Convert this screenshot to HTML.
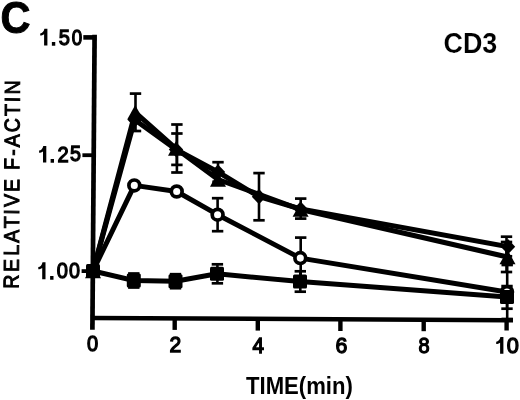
<!DOCTYPE html>
<html><head><meta charset="utf-8"><style>
html,body{margin:0;padding:0;background:#fff;width:520px;height:400px;overflow:hidden}
svg{display:block;font-family:"Liberation Sans",sans-serif;filter:grayscale(1)}
</style></head><body>
<svg width="520" height="400" viewBox="0 0 520 400">
<rect width="520" height="400" fill="#fff"/>
<defs><filter id="b" x="-5%" y="-5%" width="110%" height="110%"><feGaussianBlur stdDeviation="0.35"/></filter></defs>
<g filter="url(#b)">
<g fill="#000">

<text transform="translate(0.5,33.25) scale(0.925,1)" font-size="44.8" font-weight="bold" stroke="#000" stroke-width="1.0">C</text>
<text transform="translate(443.5,53.4) scale(0.917,1)" font-size="29.3" font-weight="bold" stroke="#fff" stroke-width="0.15">CD3</text>
<path d="M47.40,28.70 L47.40,45.50 L44.10,45.50 L44.10,34.30 C42.90,35.10 41.50,35.60 40.20,35.60 L40.20,33.50 C42.30,33.20 43.80,31.50 44.40,28.70 Z"/>
<path d="M46.30,145.90 L46.30,162.40 L43.00,162.40 L43.00,151.40 C41.80,152.19 40.40,152.68 39.10,152.68 L39.10,150.61 C41.20,150.32 42.70,148.65 43.30,145.90 Z"/>
<path d="M45.50,262.20 L45.50,279.30 L42.20,279.30 L42.20,267.90 C41.00,268.71 39.60,269.22 38.30,269.22 L38.30,267.09 C40.40,266.78 41.90,265.05 42.50,262.20 Z"/>
<path d="M503.40,337.10 L503.40,353.80 L500.10,353.80 L500.10,342.67 C498.90,343.46 497.50,343.96 496.20,343.96 L496.20,341.87 C498.30,341.57 499.80,339.88 500.40,337.10 Z"/>
<text transform="translate(50.40,45.00) scale(1.0,1)" font-size="22.0" stroke="#000" stroke-width="1.3">.</text>
<text transform="translate(58.77,44.75) scale(0.913,1)" font-size="22.0" stroke="#000" stroke-width="1.3">5</text>
<text transform="translate(71.69,44.75) scale(0.852,1)" font-size="22.0" stroke="#000" stroke-width="1.3">0</text>
<text transform="translate(49.20,161.90) scale(1.0,1)" font-size="22.0" stroke="#000" stroke-width="1.3">.</text>
<text transform="translate(57.44,161.90) scale(0.916,1)" font-size="22.0" stroke="#000" stroke-width="1.3">2</text>
<text transform="translate(69.98,161.45) scale(0.896,1)" font-size="22.0" stroke="#000" stroke-width="1.3">5</text>
<text transform="translate(48.70,278.80) scale(1.0,1)" font-size="22.0" stroke="#000" stroke-width="1.3">.</text>
<text transform="translate(56.77,277.95) scale(0.913,1)" font-size="22.0" stroke="#000" stroke-width="1.3">0</text>
<text transform="translate(69.08,277.95) scale(0.896,1)" font-size="22.0" stroke="#000" stroke-width="1.3">0</text>
<text transform="translate(86.97,351.35) scale(0.913,1)" font-size="22.0" stroke="#000" stroke-width="1.3">0</text>
<text transform="translate(169.52,352.10) scale(0.96,1)" font-size="22.0" stroke="#000" stroke-width="1.3">2</text>
<text transform="translate(252.50,352.50) scale(0.938,1)" font-size="22.0" stroke="#000" stroke-width="1.3">4</text>
<text transform="translate(335.52,352.65) scale(0.968,1)" font-size="22.0" stroke="#000" stroke-width="1.3">6</text>
<text transform="translate(418.55,353.05) scale(0.907,1)" font-size="22.0" stroke="#000" stroke-width="1.3">8</text>
<text transform="translate(506.85,353.25) scale(0.991,1)" font-size="22.0" stroke="#000" stroke-width="1.3">0</text>
<text transform="translate(246,393.8) scale(0.937,1)" font-size="23.6" font-weight="bold">TIME(min)</text>
<text transform="translate(18.6,288.8) rotate(-89.65) scale(0.906,1)" font-size="21.5" letter-spacing="2.45" stroke="#000" stroke-width="1.0" dx="0 0.66 1.0 0.11 0.66 -0.55 0.05 -0.16 -0.45 -0.49 0 -0.17 -0.11 -0.11 -0.44 0">RELATIVE F-ACTIN</text>

</g>
<g fill="#000" stroke-linecap="butt">

<line x1="94.6" y1="34.8" x2="92.4" y2="329.8" stroke="#000" stroke-width="4.7"/>
<line x1="91" y1="317.9" x2="513" y2="320.2" stroke="#000" stroke-width="4.5"/>
<line x1="83.3" y1="37.4" x2="95" y2="37.4" stroke="#000" stroke-width="4.6"/>
<line x1="82.4" y1="155.2" x2="94" y2="155.2" stroke="#000" stroke-width="3.8"/>
<line x1="81.6" y1="271.1" x2="93" y2="271.1" stroke="#000" stroke-width="3.8"/>
<line x1="174.7" y1="318" x2="174.7" y2="329.9" stroke="#000" stroke-width="4.4"/>
<line x1="257.8" y1="318.5" x2="257.8" y2="330.6" stroke="#000" stroke-width="4.4"/>
<line x1="340.4" y1="319" x2="340.4" y2="331" stroke="#000" stroke-width="4.4"/>
<line x1="423.7" y1="319.3" x2="423.7" y2="331.2" stroke="#000" stroke-width="4.4"/>
<line x1="506.6" y1="319.8" x2="506.6" y2="330.5" stroke="#000" stroke-width="4.4"/>

</g>
<g fill="#000">
<line x1="135.5" y1="93.6" x2="135.5" y2="131.0" stroke="#000" stroke-width="2.6"/>
<rect x="129.8" y="92.25" width="11.4" height="2.7"/>
<rect x="129.8" y="129.65" width="11.4" height="2.7"/>
<line x1="176.9" y1="124.5" x2="176.9" y2="172.5" stroke="#000" stroke-width="2.6"/>
<rect x="171.20000000000002" y="123.15" width="11.4" height="2.7"/>
<rect x="171.20000000000002" y="171.15" width="11.4" height="2.7"/>
<line x1="176.9" y1="133.5" x2="176.9" y2="164.89999999999998" stroke="#000" stroke-width="2.6"/>
<rect x="171.20000000000002" y="132.15" width="11.4" height="2.7"/>
<rect x="171.20000000000002" y="163.54999999999998" width="11.4" height="2.7"/>
<line x1="218" y1="162.2" x2="218" y2="181.8" stroke="#000" stroke-width="2.6"/>
<rect x="212.3" y="160.85" width="11.4" height="2.7"/>
<rect x="212.3" y="180.45000000000002" width="11.4" height="2.7"/>
<line x1="259" y1="173.1" x2="259" y2="220.29999999999998" stroke="#000" stroke-width="2.6"/>
<rect x="253.3" y="171.75" width="11.4" height="2.7"/>
<rect x="253.3" y="218.95" width="11.4" height="2.7"/>
<line x1="300.7" y1="198.6" x2="300.7" y2="218.6" stroke="#000" stroke-width="2.6"/>
<rect x="295.0" y="197.25" width="11.4" height="2.7"/>
<rect x="295.0" y="217.25" width="11.4" height="2.7"/>
<line x1="506.5" y1="236.7" x2="506.5" y2="256.3" stroke="#000" stroke-width="2.6"/>
<rect x="500.8" y="235.35" width="11.4" height="2.7"/>
<rect x="500.8" y="254.95000000000002" width="11.4" height="2.7"/>
<line x1="506.5" y1="242.0" x2="506.5" y2="272.0" stroke="#000" stroke-width="2.6"/>
<rect x="500.8" y="240.65" width="11.4" height="2.7"/>
<rect x="500.8" y="270.65" width="11.4" height="2.7"/>
<line x1="217.6" y1="198.2" x2="217.6" y2="231.2" stroke="#000" stroke-width="2.6"/>
<rect x="211.9" y="196.85" width="11.4" height="2.7"/>
<rect x="211.9" y="229.85" width="11.4" height="2.7"/>
<line x1="300.7" y1="237.60000000000002" x2="300.7" y2="278.6" stroke="#000" stroke-width="2.6"/>
<rect x="295.0" y="236.25000000000003" width="11.4" height="2.7"/>
<rect x="295.0" y="277.25" width="11.4" height="2.7"/>
<line x1="507.2" y1="265.0" x2="507.2" y2="319.0" stroke="#000" stroke-width="2.6"/>
<rect x="501.5" y="263.65" width="11.4" height="2.7"/>
<rect x="501.5" y="317.65" width="11.4" height="2.7"/>
<line x1="217.4" y1="264.3" x2="217.4" y2="283.3" stroke="#000" stroke-width="2.6"/>
<rect x="211.70000000000002" y="262.95" width="11.4" height="2.7"/>
<rect x="211.70000000000002" y="281.95" width="11.4" height="2.7"/>
<line x1="300.3" y1="271.3" x2="300.3" y2="291.7" stroke="#000" stroke-width="2.6"/>
<rect x="294.6" y="269.95" width="11.4" height="2.7"/>
<rect x="294.6" y="290.34999999999997" width="11.4" height="2.7"/>
<line x1="507" y1="286.09999999999997" x2="507" y2="308.7" stroke="#000" stroke-width="2.6"/>
<rect x="501.3" y="284.74999999999994" width="11.4" height="2.7"/>
<rect x="501.3" y="307.34999999999997" width="11.4" height="2.7"/>
<line x1="133.8" y1="273.5" x2="133.8" y2="287.5" stroke="#000" stroke-width="2.6"/>
<rect x="128.10000000000002" y="272.15" width="11.4" height="2.7"/>
<rect x="128.10000000000002" y="286.15" width="11.4" height="2.7"/>
<line x1="175.5" y1="274.2" x2="175.5" y2="288.2" stroke="#000" stroke-width="2.6"/>
<rect x="169.8" y="272.84999999999997" width="11.4" height="2.7"/>
<rect x="169.8" y="286.84999999999997" width="11.4" height="2.7"/>
<polyline points="93,271 133.8,280.5 175.5,281.2 217,273.8 300,281.6 507,297.0" fill="none" stroke="#000" stroke-width="5.0" stroke-linejoin="round"/>
<polyline points="93,271 134.3,185.4 176.7,191.5 217.6,214.7 300.3,258.1 507,292" fill="none" stroke="#000" stroke-width="5.0" stroke-linejoin="round"/>
<polyline points="93,271 135.2,112.3 176,148.5 218,179.5 300.6,209.5 507.5,257" fill="none" stroke="#000" stroke-width="5.0" stroke-linejoin="round"/>
<polyline points="93,271 134.7,119.8 176,149.5 218,172 259,196.7 300.6,209 508,246.7" fill="none" stroke="#000" stroke-width="5.0" stroke-linejoin="round"/>
<circle cx="93" cy="271" r="5.4" fill="#fff" stroke="#000" stroke-width="3.7"/>
<circle cx="134.3" cy="185.4" r="5.4" fill="#fff" stroke="#000" stroke-width="3.7"/>
<circle cx="176.7" cy="191.5" r="5.4" fill="#fff" stroke="#000" stroke-width="3.7"/>
<circle cx="217.6" cy="214.7" r="5.4" fill="#fff" stroke="#000" stroke-width="3.7"/>
<circle cx="300.3" cy="258.1" r="5.4" fill="#fff" stroke="#000" stroke-width="3.7"/>
<circle cx="507" cy="292" r="5.4" fill="#fff" stroke="#000" stroke-width="3.7"/>
<rect x="86.0" y="264.0" width="14" height="14" rx="1.5"/>
<rect x="126.80000000000001" y="273.5" width="14" height="14" rx="1.5"/>
<rect x="168.5" y="274.2" width="14" height="14" rx="1.5"/>
<rect x="210.0" y="266.8" width="14" height="14" rx="1.5"/>
<rect x="293.0" y="274.6" width="14" height="14" rx="1.5"/>
<rect x="500.0" y="290.0" width="14" height="14" rx="1.5"/>
<polygon points="93,263.75 101,278.25 85,278.25"/>
<polygon points="135.2,105.05 143.2,119.55 127.19999999999999,119.55"/>
<polygon points="176,141.25 184,155.75 168,155.75"/>
<polygon points="218,172.25 226,186.75 210,186.75"/>
<polygon points="300.6,202.25 308.6,216.75 292.6,216.75"/>
<polygon points="507.5,249.75 515.5,264.25 499.5,264.25"/>
<polygon points="93,263.4 100.2,271 93,278.6 85.8,271"/>
<polygon points="134.7,112.2 141.89999999999998,119.8 134.7,127.39999999999999 127.49999999999999,119.8"/>
<polygon points="176,141.9 183.2,149.5 176,157.1 168.8,149.5"/>
<polygon points="218,164.4 225.2,172 218,179.6 210.8,172"/>
<polygon points="259,189.1 266.2,196.7 259,204.29999999999998 251.8,196.7"/>
<polygon points="300.6,201.4 307.8,209 300.6,216.6 293.40000000000003,209"/>
<polygon points="508,239.1 515.2,246.7 508,254.29999999999998 500.8,246.7"/>
</g>
</g>
</svg>
</body></html>
